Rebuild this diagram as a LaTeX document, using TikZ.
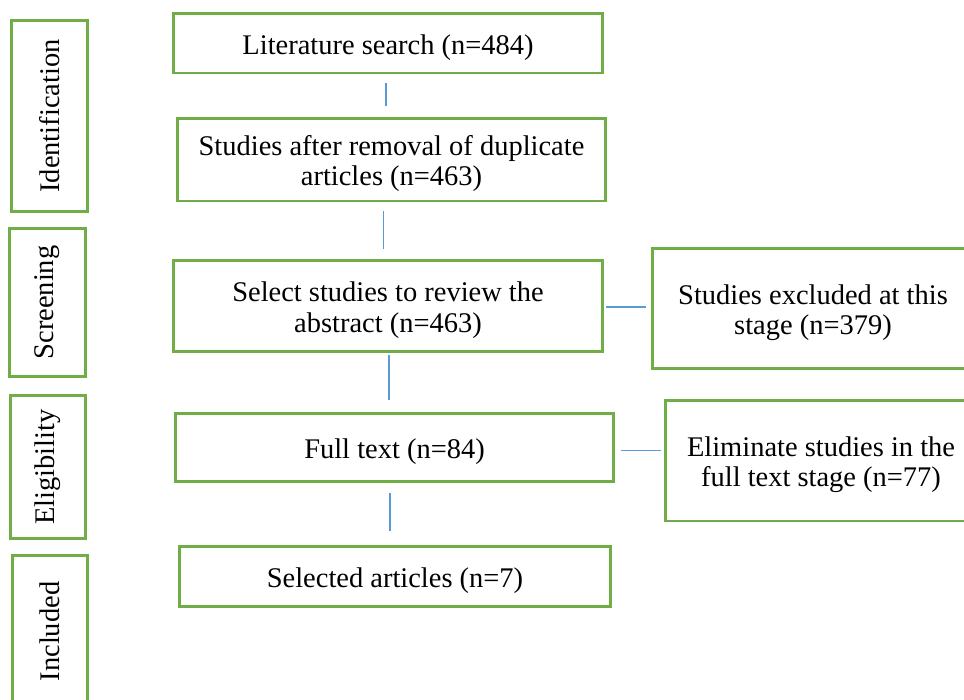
\documentclass[tikz,border=0pt]{standalone}
\usepackage{fontspec}
\setmainfont{Liberation Serif}
\usetikzlibrary{calc}
\definecolor{boxgreen}{HTML}{70AD47}
\definecolor{linkblue}{HTML}{5B9BD5}
\newcommand{\lift}{\rule{0pt}{16pt}}
\tikzset{
  frame/.style={draw=boxgreen, line width=1.7pt, inner sep=0pt, outer sep=0pt, align=center, font=\fontsize{16.2}{17.5}\selectfont},
  box/.style={frame},
  stage/.style={frame, rotate=90},
  link/.style={draw=linkblue, line width=0.7pt},
}

\begin{document}
\begin{tikzpicture}[x=0.02cm, y=-0.02cm]
  \clip (0,0) rectangle (964,700); %frame
  % stages
  \node[stage, minimum width=3.84cm, minimum height=1.54cm] (ident) at (49.5,116) {Identification};
  \node[stage, minimum width=2.98cm, minimum height=1.54cm] (screen) at (47.5,302.5) {Screening};
  \node[stage, minimum width=2.88cm, minimum height=1.52cm] (elig) at (48,467) {Eligibility};
  \node[stage, minimum width=3.06cm, minimum height=1.52cm] (incl) at (50,631.5) {Included};
  % main flow
  \node[box, minimum width=8.6cm, minimum height=1.2cm] (search) at (388,43) {\lift Literature search (n=484)};
  \node[box, minimum width=8.58cm, minimum height=1.66cm] (dedup) at (391.5,159.5) {\lift Studies after removal of duplicate\\articles (n=463)};
  \node[box, minimum width=8.6cm, minimum height=1.82cm] (abstr) at (388,306) {\lift Select studies to review the\\abstract (n=463)};
  \node[box, minimum width=8.78cm, minimum height=1.36cm] (fulltxt) at (394.5,447.7) {\lift Full text (n=84)};
  \node[box, minimum width=8.64cm, minimum height=1.2cm] (selected) at (395,576.7) {\lift Selected articles (n=7)};
  % excluded
  \node[box, minimum width=6.44cm, minimum height=2.42cm] (excl) at (813,308.5) {\lift Studies excluded at this\\stage (n=379)};
  \node[box, minimum width=6.24cm, minimum height=2.42cm] (elim) at (821,460.5) {\lift Eliminate studies in the\\full text stage (n=77)};
  % links
  \draw[link, shorten <=5.7pt, shorten >=6.8pt] ($(search.south)+(-2,0)$) -- ($(search.south |- dedup.north)+(-2,0)$);
  \draw[link, shorten <=5.7pt, shorten >=6.8pt] ($(dedup.south)+(-8,0)$) -- ($(dedup.south |- abstr.north)+(-8,0)$);
  \draw[link, shorten <=1.9pt, shorten >=7.8pt] ($(abstr.south)+(1,0)$) -- ($(abstr.south |- fulltxt.north)+(1,0)$);
  \draw[link, shorten <=6.4pt, shorten >=9.1pt] ($(fulltxt.south)+(-4.5,0)$) -- ($(fulltxt.south |- selected.north)+(-4.5,0)$);
  \draw[link, shorten <=1.7pt, shorten >=3.4pt] ($(abstr.east)+(0,1)$) -- ($(abstr.east -| excl.west)+(0,1)$);
  \draw[link, shorten <=4pt, shorten >=2.3pt] ($(fulltxt.east)+(0,3)$) -- ($(fulltxt.east -| elim.west)+(0,3)$);
\end{tikzpicture}
\end{document}
